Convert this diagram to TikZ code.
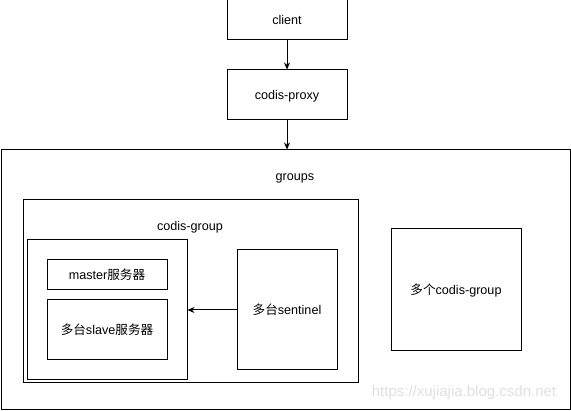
\documentclass[tikz,border=0pt]{standalone}
\usepackage{fontspec}
\setmainfont{Liberation Sans}
\newfontfamily\cjk{Noto Sans CJK SC}
\usetikzlibrary{arrows.meta}
\begin{document}
\begin{tikzpicture}[x=1pt,y=-1pt,
  box/.style={draw=black,line width=1pt,rectangle,inner sep=0pt,fill=white},
  lbl/.style={font=\fontsize{12.6}{14}\selectfont,inner sep=0pt,text height=10pt,text depth=0pt},
  conn/.style={line width=1pt,-{Stealth[length=7pt,width=6pt]}}]
\useasboundingbox (0,0) rectangle (571,411);
\fill[white] (0,0) rectangle (571,411);
\node[box,minimum width=120pt,minimum height=40pt,lbl] (client) at (287,20) {client};
\node[box,minimum width=120pt,minimum height=50pt,lbl] (proxy) at (287,95) {codis-proxy};
\node[box,minimum width=569pt,minimum height=260pt] (groups) at (285.5,280) {};
\node[lbl] (groupslbl) at (295,176) {groups};
\node[box,minimum width=335pt,minimum height=183pt] (cg) at (190.5,291.5) {};
\node[lbl] (cglbl) at (190,226) {codis-group};
\node[box,minimum width=160pt,minimum height=140pt] (inner) at (107,310) {};
\node[box,minimum width=120pt,minimum height=30pt,lbl] (master) at (107,275) {master{\cjk 服务器}};
\node[box,minimum width=120pt,minimum height=60pt,lbl] (slave) at (107,330) {{\cjk 多台}slave{\cjk 服务器}};
\node[box,minimum width=100pt,minimum height=120pt,lbl] (sentinel) at (287,310) {{\cjk 多台}sentinel};
\node[box,minimum width=130pt,minimum height=122pt,lbl] (multi) at (456,290) {{\cjk 多个}codis-group};
\node[font=\fontsize{15}{17}\selectfont,text=black!12,inner sep=0pt] (wm) at (464,393) {https://xujiajia.blog.csdn.net};
\draw[conn] (client) -- (proxy);
\draw[conn] (proxy) -- (groups.north -| proxy);
\draw[conn] (sentinel) -- (inner.east |- sentinel);
\end{tikzpicture}
\end{document}
